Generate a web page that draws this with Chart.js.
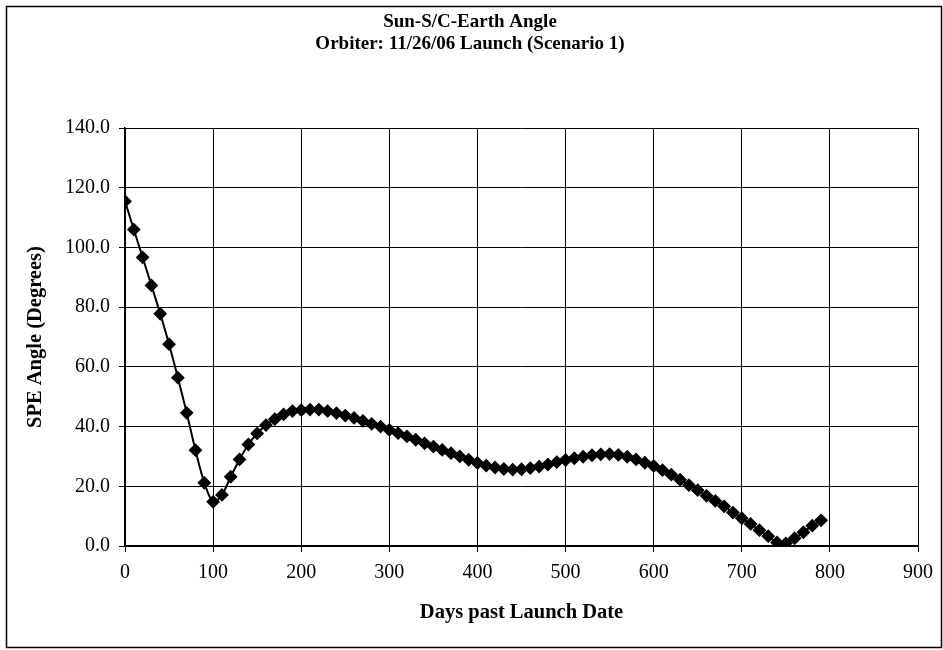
<!DOCTYPE html>
<html>
<head>
<meta charset="utf-8">
<script src="https://cdn.jsdelivr.net/npm/chart.js"></script>
<style>
  html, body { margin: 0; padding: 0; background: #fff; }
  #wrap { position: relative; width: 943px; height: 650px; }
</style>
</head>
<body>
<div id="wrap"><canvas id="myChart" width="943" height="650"></canvas></div>
<script>
// days past launch, every 10 days
const days = [];
for (let d = 0; d <= 790; d += 10) days.push(d);

// SPE angle (degrees)
const speAngle = [
  115.5, 106.0, 96.7, 87.3, 77.8, 67.6, 56.4, 44.6, 32.1, 21.2,
  14.8, 17.1, 23.2, 29.0, 34.0, 37.7, 40.5, 42.5, 44.1, 45.2,
  45.5, 45.7, 45.7, 45.2, 44.5, 43.7, 42.9, 41.9, 40.9, 40.0,
  38.9, 37.8, 36.7, 35.6, 34.4, 33.3, 32.2, 31.1, 30.0, 28.9,
  27.8, 26.9, 26.3, 25.8, 25.6, 25.7, 26.1, 26.6, 27.3, 28.1,
  28.8, 29.4, 29.9, 30.4, 30.7, 30.8, 30.5, 29.9, 29.0, 27.9,
  26.8, 25.4, 23.9, 22.2, 20.4, 18.7, 16.8, 15.1, 13.3, 11.2,
  9.3, 7.4, 5.3, 3.3, 1.2, 0.9, 2.6, 4.6, 6.8, 8.6
];

const titleLines = ['Sun-S/C-Earth Angle', 'Orbiter: 11/26/06 Launch (Scenario 1)'];
const xTitle = 'Days past Launch Date';
const yTitle = 'SPE Angle (Degrees)';

const serif = 'Liberation Serif, Times New Roman, serif';

// outer frame like the excel chart border
const framePlugin = {
  id: 'frame',
  afterDraw(chart) {
    const c = chart.ctx;
    c.save();
    c.strokeStyle = '#000';
    c.lineWidth = 1.5;
    c.strokeRect(6.5, 6.5, 935, 641);
    c.restore();
  }
};

const ctx = document.getElementById('myChart').getContext('2d');
const myChart = new Chart(ctx, {
  type: 'line',
  data: {
    datasets: [{
      data: days.map((d, i) => ({ x: d, y: speAngle[i] })),
      borderColor: '#000',
      backgroundColor: '#000',
      borderWidth: 2,
      pointStyle: 'rectRot',
      pointRadius: 5.5,
      pointHoverRadius: 5.5,
      tension: 0.3,
      fill: false
    }]
  },
  options: {
    responsive: false,
    animation: false,
    layout: { padding: { left: 22, right: 25, top: 0, bottom: 0 } },
    plugins: {
      legend: { display: false },
      tooltip: { enabled: false },
      title: {
        display: true,
        text: titleLines,
        color: '#000',
        font: { family: serif, size: 19, weight: 'bold', lineHeight: 1.16 },
        padding: { top: 11, bottom: 73 }
      }
    },
    scales: {
      x: {
        type: 'linear',
        min: 0,
        max: 900,
        afterFit: s => { s.height = 104; },
        ticks: { stepSize: 100, color: '#000', padding: 9, font: { family: serif, size: 20 } },
        grid: { color: '#000', lineWidth: 1, tickLength: 6, tickColor: '#000' },
        border: { color: '#000', width: 1.5 },
        title: {
          display: true,
          text: xTitle,
          color: '#000',
          font: { family: serif, size: 20.5, weight: 'bold' },
          padding: { bottom: 25 }
        }
      },
      y: {
        min: 0,
        max: 140,
        afterFit: s => { s.width = 103; },
        ticks: {
          stepSize: 20,
          color: '#000',
          padding: 9,
          font: { family: serif, size: 20 },
          callback: v => v.toFixed(1)
        },
        grid: { color: '#000', lineWidth: 1, tickLength: 6, tickColor: '#000' },
        border: { color: '#000', width: 1.5 },
        title: {
          display: true,
          text: yTitle,
          color: '#000',
          font: { family: serif, size: 20.5, weight: 'bold' },
          padding: { top: 1 }
        }
      }
    }
  },
  plugins: [framePlugin]
});
</script>
</body>
</html>
